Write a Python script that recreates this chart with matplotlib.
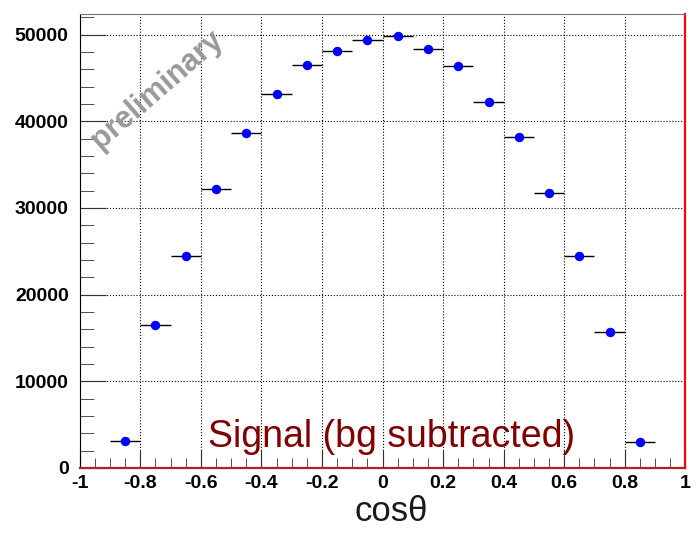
import matplotlib
matplotlib.use("Agg")
import matplotlib.pyplot as plt
from matplotlib.ticker import MultipleLocator

# bin centres and half widths of cos(theta)
cos_theta = [-0.85, -0.75, -0.65, -0.55, -0.45, -0.35, -0.25, -0.15, -0.05,
             0.05, 0.15, 0.25, 0.35, 0.45, 0.55, 0.65, 0.75, 0.85]
half_width = [0.05] * 18
counts = [3100, 16500, 24500, 32200, 38600, 43200, 46500, 48150, 49400,
          49800, 48400, 46400, 42250, 38200, 31700, 24500, 15700, 3000]

plt.rcParams['font.family'] = ['Liberation Sans', 'DejaVu Sans']

fig = plt.figure(figsize=(7.0, 5.33), dpi=100)
ax = fig.add_axes([0.114, 0.122, 0.865, 0.852])

ax.errorbar(cos_theta, counts, xerr=half_width, fmt='o', color='blue',
            ecolor='black', elinewidth=1.0, markersize=5.8, capsize=0)

ax.set_xlim(-1, 1)
ax.set_ylim(0, 52400)
ax.xaxis.set_major_locator(MultipleLocator(0.2))
ax.xaxis.set_minor_locator(MultipleLocator(0.05))
ax.yaxis.set_major_locator(MultipleLocator(10000))
ax.yaxis.set_minor_locator(MultipleLocator(2000))
ax.xaxis.set_major_formatter(plt.FuncFormatter(lambda v, p: '%g' % round(v, 2)))

ax.tick_params(axis='both', which='both', direction='in', top=False, right=False,
               labelsize=14, colors='#333333', labelcolor='black')
ax.tick_params(axis='y', which='major', length=19, pad=8)
ax.tick_params(axis='y', which='minor', length=10)
ax.tick_params(axis='x', which='major', length=13, pad=5)
ax.tick_params(axis='x', which='minor', length=7)
for lab in ax.get_xticklabels() + ax.get_yticklabels():
    lab.set_fontweight('bold')

ax.grid(True, which='major', linestyle=':', color='black', linewidth=0.8)

ax.spines['left'].set_color('black')
ax.spines['top'].set_color('#777777')
ax.spines['right'].set_color('red')
ax.spines['right'].set_linewidth(1.6)
ax.spines['bottom'].set_color('#b22222')
ax.spines['bottom'].set_linewidth(1.6)

ax.set_xlabel('cosθ', fontsize=25, color='#1a1a1a')
ax.xaxis.set_label_coords(0.514, -0.06)

ax.text(0.031, 3580, 'Signal (bg subtracted)', fontsize=27, color='#800000',
        ha='center', va='center')
ax.text(-0.745, 43650, 'preliminary', fontsize=22, fontweight='bold',
        color='#999999', rotation=41, ha='center', va='center')

fig.savefig('out.png', dpi=100)
